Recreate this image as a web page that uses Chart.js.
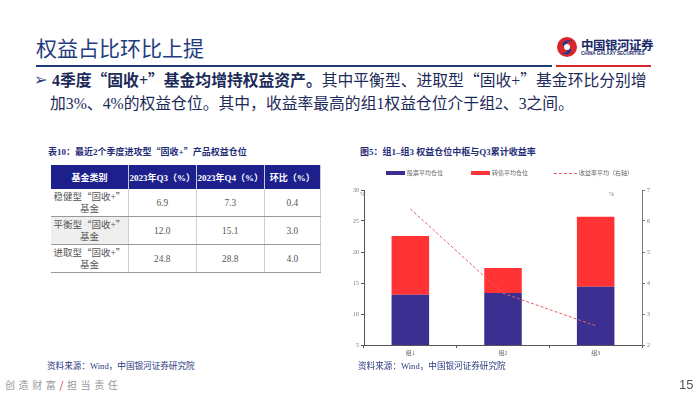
<!DOCTYPE html>
<html><head><meta charset="utf-8">
<script src="https://cdn.jsdelivr.net/npm/chart.js@4.4.0/dist/chart.umd.min.js"></script>
<style>
body{margin:0;width:700px;height:394px;overflow:hidden;background:#fff;position:relative;font-family:"Liberation Serif","Noto Sans CJK SC",serif;}
.abs{position:absolute;white-space:nowrap;}
.q{font-family:"Noto Sans CJK SC",sans-serif;}
#title{left:36px;top:33px;font-family:"Noto Sans CJK SC",sans-serif;font-size:21px;color:#1f3c7e;line-height:28px;}
#lineBlue{left:36px;top:65px;width:516px;height:2px;background:#1f3c78;}
#lineRed{left:556px;top:65px;width:95px;height:2px;background:#d9262c;}
.bul{left:50px;font-size:15.8px;color:#1b2a58;line-height:22px;}
#arrow{left:34px;top:68px;font-family:'DejaVu Sans';font-size:16px;color:#1f3c78;line-height:24px;}
#tblTitle{left:48px;top:145px;font-size:9px;font-weight:bold;color:#1f2d78;}
#chTitle{left:360px;top:145px;font-size:9px;font-weight:bold;color:#1f2d78;}
table{position:absolute;left:51px;top:165px;width:270px;border-collapse:collapse;font-size:9.3px;}
th{background:#1c1f8c;color:#fff;height:24px;font-weight:bold;padding:0;border-right:1px solid #c8c8d8;font-size:9px;}
td{color:#555;text-align:center;padding:0;border-bottom:1px solid #999;border-right:1px solid #d0d0d0;height:27px;line-height:12px;}
td.f{font-size:9.5px;}
.src{top:359px;font-size:8.6px;color:#2a3a80;}
#slogan{left:5px;top:377px;font-size:10px;color:#999;letter-spacing:3.6px;font-family:"Noto Sans CJK SC",sans-serif;}
#page{left:679px;top:377px;font-size:13px;color:#555;font-family:"Liberation Sans",sans-serif;}
#logoT{left:581px;top:35px;font-size:12.5px;font-weight:bold;color:#1a2a6c;font-family:"Noto Sans CJK SC",sans-serif;letter-spacing:-0.5px;}
#logoE{left:581px;top:51px;font-size:4.6px;font-weight:bold;color:#1a2a6c;font-family:"Liberation Sans",sans-serif;}
#chart{position:absolute;left:340px;top:160px;}
</style></head><body>
<div class="abs" id="title">权益占比环比上提</div>
<svg class="abs" style="left:556px;top:36px" width="22" height="22" viewBox="0 0 22 22">
  <circle cx="11" cy="11" r="10" fill="#d9262c"/>
  <path d="M17 5 C9 2 3 8 9 11 C14 13 11 18 5 17 C11 21 19 16 13 11 C8 8 11 5 17 5Z" fill="#1f3c8c"/>
  <circle cx="11" cy="11" r="3" fill="#fff"/>
</svg>
<div class="abs" id="logoT">中国银河证券</div>
<div class="abs" id="logoE">CHINA GALAXY SECURITIES</div>
<div class="abs" id="lineBlue"></div>
<div class="abs" id="lineRed"></div>
<div class="abs" id="arrow">➢</div>
<div class="abs bul" style="top:69px;left:52px"><b>4季度<span class="q">“</span>固收+<span class="q">”</span>基金均增持权益资产。</b>其中平衡型、进取型<span class="q">“</span>固收+<span class="q">”</span>基金环比分别增</div>
<div class="abs bul" style="top:93px">加3%、4%的权益仓位。其中，收益率最高的组1权益仓位介于组2、3之间。</div>

<div class="abs" id="tblTitle">表10：最近2个季度进攻型<span class="q">“</span>固收+<span class="q">”</span>产品权益仓位</div>
<table id="tbl"></table>

<div class="abs" id="chTitle">图5：组1–组3 权益仓位中枢与Q3累计收益率</div>
<canvas id="chart" width="330" height="200"></canvas>

<div class="abs src" style="left:47px">资料来源：Wind，中国银河证券研究院</div>
<div class="abs src" style="left:358px">资料来源：Wind，中国银河证券研究院</div>
<div class="abs" id="slogan">创造财富<span style="color:#d9262c">/</span>担当责任</div>
<div class="abs" id="page">15</div>

<script>
// ---- table data ----
const tableHeaders = ['基金类别', '2023年Q3（%）', '2023年Q4（%）', '环比（%）'];
const fundTypes = ['稳健型', '平衡型', '进取型'];
const q3Values = ['6.9', '12.0', '24.8'];
const q4Values = ['7.3', '15.1', '28.8'];
const qoqValues = ['0.4', '3.0', '4.0'];

// ---- chart data ----
const categories = ['组1', '组2', '组3'];
const stockPosition = [13.1, 13.4, 14.4];
const bondPosition = [9.5, 4.0, 11.3];
const returnAverage = [6.39, 3.67, 2.62];
const seriesLabels = ['股票平均仓位', '转债平均仓位', '收益率平均（右轴）'];

// build table
const tbl = document.getElementById('tbl');
const colW = [78, 68, 68, 56];
let html = '<tr>' + tableHeaders.map((h, i) => `<th style="width:${colW[i]}px">${h}</th>`).join('') + '</tr>';
fundTypes.forEach((f, i) => {
  const bg = i === 1 ? 'background:#efefef;' : '';
  html += `<tr><td class="f" style="${bg}">${f}<span class="q">“</span>固收+<span class="q">”</span><br>基金</td><td>${q3Values[i]}</td><td>${q4Values[i]}</td><td>${qoqValues[i]}</td></tr>`;
});
tbl.innerHTML = html;

// legend + unit labels plugin
const decor = {
  id: 'decor',
  afterDraw(chart) {
    const c = chart.ctx;
    const ds = chart.data.datasets;
    c.save();
    c.font = '6px "Noto Sans CJK SC"';
    c.textBaseline = 'middle';
    const y = 13;
    const items = [46, 131, 214];
    ds.forEach((d, i) => {
      const x = items[i];
      if (d.type === 'line') {
        c.strokeStyle = d.borderColor; c.lineWidth = 1; c.setLineDash([3, 2]);
        c.beginPath(); c.moveTo(x, y + 0.5); c.lineTo(x + 23, y + 0.5); c.stroke();
        c.setLineDash([]);
        c.fillStyle = '#666'; c.fillText(d.label, x + 25, y);
      } else {
        c.fillStyle = d.backgroundColor; c.fillRect(x, y - 2, 19, 4);
        c.fillStyle = '#666'; c.fillText(d.label, x + 21, y);
      }
    });
    c.font = '6px "Liberation Serif"';
    c.fillStyle = '#777';
    c.fillText('%', 20, 34);
    c.fillText('%', 269, 34);
    c.restore();
  }
};

const tickFont = { family: '"Liberation Serif","Noto Sans CJK SC"', size: 6 };
new Chart(document.getElementById('chart'), {
  data: {
    labels: categories,
    datasets: [
      { type: 'bar', label: seriesLabels[0], data: stockPosition, backgroundColor: '#3b2f91', stack: 's', yAxisID: 'y', order: 2, barPercentage: 0.405, categoryPercentage: 1 },
      { type: 'bar', label: seriesLabels[1], data: bondPosition, backgroundColor: '#ff3333', stack: 's', yAxisID: 'y', order: 2, barPercentage: 0.405, categoryPercentage: 1 },
      { type: 'line', label: seriesLabels[2], data: returnAverage, borderColor: '#e06060', borderWidth: 1, borderDash: [3, 2], pointRadius: 0, yAxisID: 'y1', order: 1, tension: 0 }
    ]
  },
  options: {
    responsive: false, animation: false, devicePixelRatio: 1,
    layout: { padding: { top: 30, left: 0, right: 0, bottom: 0 } },
    plugins: { legend: { display: false }, tooltip: { enabled: false } },
    scales: {
      x: { stacked: true, offset: true,
        grid: { offset: true, drawOnChartArea: false, tickLength: 3, color: '#555' },
        border: { color: '#555' },
        ticks: { font: tickFont, color: '#666', padding: 2 },
        afterFit: s => { s.height = 15; } },
      y: { stacked: true, min: 5, max: 30,
        ticks: { stepSize: 5, font: tickFont, color: '#777', padding: 2 },
        grid: { drawOnChartArea: false, tickLength: 3, color: '#555' },
        border: { color: '#555' },
        afterFit: s => { s.width = 24; } },
      y1: { position: 'right', min: 2, max: 7,
        ticks: { stepSize: 1, font: tickFont, color: '#777', padding: 2 },
        grid: { drawOnChartArea: false, tickLength: 3, color: '#778' },
        border: { color: '#778' },
        afterFit: s => { s.width = 28; } }
    }
  },
  plugins: [decor]
});
</script>
</body></html>
